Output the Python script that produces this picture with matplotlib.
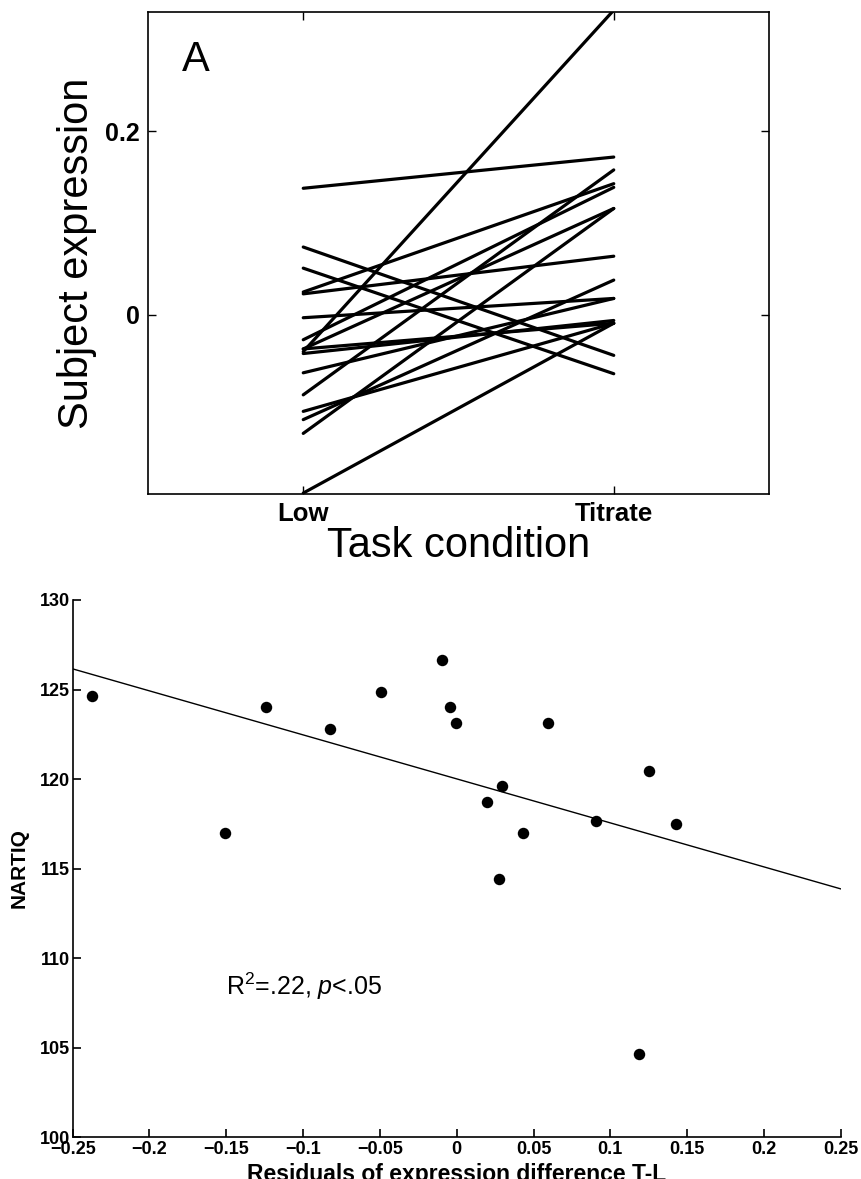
import numpy as np
import matplotlib
matplotlib.use("Agg")
import matplotlib.pyplot as plt

# ---------------- data ----------------
conditions = ["Low", "Titrate"]
low_expr = [0.138, -0.040, 0.074, 0.051, 0.025, 0.023, -0.003, -0.194, -0.129,
            -0.087, -0.027, -0.037, -0.037, -0.063, -0.105, -0.114, -0.042]
titrate_expr = [0.172, 0.332, -0.044, -0.064, 0.143, 0.064, 0.018, -0.009, 0.116,
                0.158, 0.139, 0.116, -0.009, 0.018, -0.009, 0.038, -0.006]

resid_diff = [-0.2375, -0.151, -0.124, -0.0825, -0.049, -0.0093, -0.0046, -0.0004,
              0.0196, 0.0275, 0.0296, 0.0429, 0.0596, 0.0907, 0.119, 0.125, 0.143]
nart_iq = [124.66, 116.97, 124.02, 122.78, 124.87, 126.65, 124.02, 123.12,
           118.72, 114.40, 119.59, 116.97, 123.12, 117.67, 104.64, 120.45, 117.50]

x_ticks_bottom = [-0.25, -0.2, -0.15, -0.1, -0.05, 0, 0.05, 0.1, 0.15, 0.2, 0.25]
x_ticklabels_bottom = ["\u22120.25", "\u22120.2", "\u22120.15", "\u22120.1", "\u22120.05",
                       "0", "0.05", "0.1", "0.15", "0.2", "0.25"]
y_ticks_bottom = [100, 105, 110, 115, 120, 125, 130]

plt.rcParams['font.family'] = ['Liberation Sans', 'DejaVu Sans']
plt.rcParams['mathtext.fontset'] = 'custom'
plt.rcParams['mathtext.rm'] = 'Liberation Sans'
plt.rcParams['mathtext.it'] = 'Liberation Sans:italic'

fig = plt.figure(figsize=(8.61, 11.79), dpi=100)

# ---------------- top panel ----------------
ax1 = fig.add_axes([148/861, 1-494/1179, 621/861, 482/1179])
xpos = [1, 2]
for lo, ti in zip(low_expr, titrate_expr):
    ax1.plot(xpos, [lo, ti], color='black', lw=2.3, solid_capstyle='round')
ax1.set_xlim(0.5, 2.5)
ax1.set_ylim(-0.195, 0.33)
ax1.set_xticks(xpos)
ax1.set_xticklabels(conditions, fontsize=18.5, fontweight='bold')
ax1.set_yticks([0, 0.2])
ax1.set_yticklabels(["0", "0.2"], fontsize=18, fontweight='bold')
ax1.tick_params(direction='in', top=True, right=True, length=6, width=1, pad=6)
for s in ax1.spines.values():
    s.set_linewidth(1.2)
ax1.set_ylabel("Subject expression", fontsize=30, labelpad=6)
ax1.set_xlabel("Task condition", fontsize=30, labelpad=0)
ax1.text(0.055, 0.9, "A", transform=ax1.transAxes, fontsize=30, va='center', ha='left')

# ---------------- bottom panel ----------------
ax2 = fig.add_axes([72.7/861, 1-1137/1179, 768/861, 537/1179])
ax2.scatter(resid_diff, nart_iq, s=68, color='black', zorder=3, linewidths=0)
slope, intercept = np.polyfit(resid_diff, nart_iq, 1)
xl = np.array([-0.25, 0.25])
ax2.plot(xl, slope*xl + intercept, color='black', lw=1.0)
ax2.set_xlim(-0.25, 0.25)
ax2.set_ylim(100, 130)
ax2.set_xticks(x_ticks_bottom)
ax2.set_xticklabels(x_ticklabels_bottom, fontweight='bold', fontsize=13)
ax2.set_yticks(y_ticks_bottom)
ax2.set_yticklabels([str(v) for v in y_ticks_bottom], fontweight='bold', fontsize=13)
ax2.tick_params(axis='x', direction='in', length=6, width=1.2, pad=3)
ax2.tick_params(axis='y', direction='in', length=6, width=1.2, pad=2)
for s in ax2.spines.values():
    s.set_linewidth(1.2)
ax2.spines['top'].set_visible(False)
ax2.spines['right'].set_visible(False)
ax2.set_ylabel("NARTIQ", fontsize=15, fontweight='bold', labelpad=8)
ax2.set_xlabel("Residuals of expression difference T-L", fontsize=16.5, fontweight='bold')
ax2.xaxis.set_label_coords(0.5, -0.048)
ax2.text(-0.15, 108.4, r"R$^{2}$=.22, $p$<.05", fontsize=18,
         va='center', ha='left')

fig.savefig("out.png", dpi=100)
